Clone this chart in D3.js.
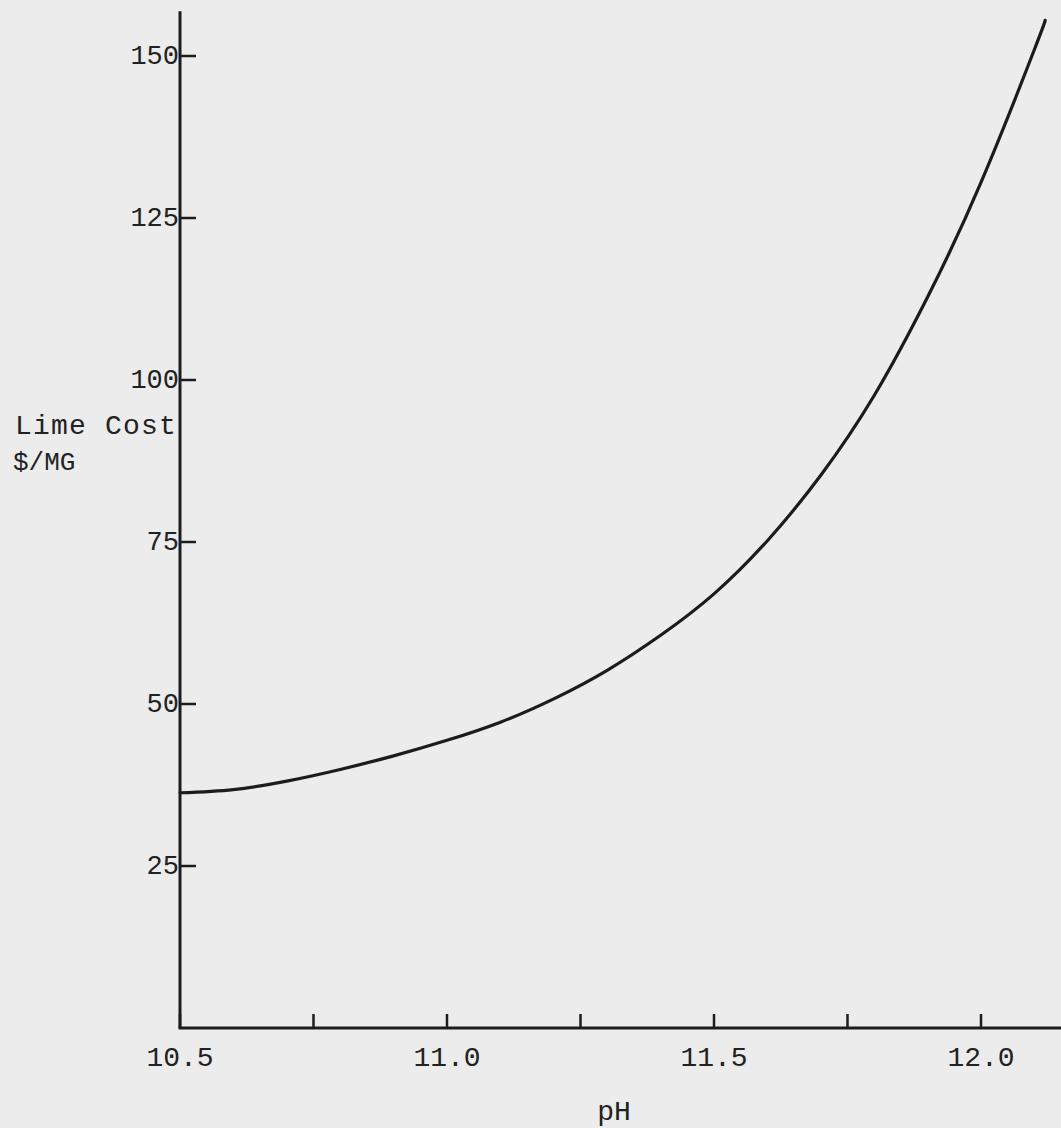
<!DOCTYPE html>
<html>
<head>
<meta charset="utf-8">
<script src="https://cdn.jsdelivr.net/npm/d3@7"></script>
<style>
  body { margin: 0; background: #ececec; }
  svg { display: block; }
  text { font-family: "Liberation Mono", monospace; fill: #222; }
</style>
</head>
<body>
<svg id="chart" width="1061" height="1128"></svg>
<script>
// values
const phValues = [10.5, 10.6, 10.7, 10.8, 10.9, 11.0, 11.1, 11.2, 11.3, 11.4, 11.5, 11.6, 11.7, 11.8, 11.9, 12.0, 12.1, 12.12];
const limeCost = [36.3, 36.8, 38.1, 39.9, 42.0, 44.4, 47.2, 50.8, 55.2, 60.6, 67.0, 75.2, 85.3, 97.6, 112.8, 130.5, 151.0, 155.5];

const xMajorTicks = [10.5, 11.0, 11.5, 12.0];
const xMinorTicks = [10.75, 11.25, 11.75];
const yTicks = [25, 50, 75, 100, 125, 150];

const svg = d3.select("#chart");
const ink = "#1c1c1c";

// scales, axis corner sits at (180, 1028)
const x = d3.scaleLinear().domain([10.5, 12.0]).range([180, 981]);
const y = d3.scaleLinear().domain([0, 150]).range([1028, 56]);

// y axis line
svg.append("line")
    .attr("x1", x(10.5)).attr("x2", x(10.5))
    .attr("y1", y(156.9)).attr("y2", y(0))
    .attr("stroke", ink).attr("stroke-width", 3);

// x axis line, runs off the right edge
svg.append("line")
    .attr("x1", x(10.5) - 1.5).attr("x2", 1061)
    .attr("y1", y(0)).attr("y2", y(0))
    .attr("stroke", ink).attr("stroke-width", 3);

// y ticks point right, labels butt against the axis
const yt = svg.append("g").selectAll("g").data(yTicks).join("g");
yt.append("line")
    .attr("x1", x(10.5)).attr("x2", x(10.5) + 16)
    .attr("y1", d => y(d)).attr("y2", d => y(d))
    .attr("stroke", ink).attr("stroke-width", 2.5);
yt.append("text")
    .attr("x", x(10.5) - 1)
    .attr("y", d => y(d) + 8)
    .attr("text-anchor", "end")
    .attr("font-size", 27)
    .text(d => d);

// x ticks point up into the plot
svg.append("g").selectAll("line").data(xMajorTicks.concat(xMinorTicks)).join("line")
    .attr("x1", d => x(d)).attr("x2", d => x(d))
    .attr("y1", y(0)).attr("y2", y(0) - 14)
    .attr("stroke", ink).attr("stroke-width", 2.5);

svg.append("g").selectAll("text").data(xMajorTicks).join("text")
    .attr("x", d => x(d))
    .attr("y", 1066)
    .attr("text-anchor", "middle")
    .attr("font-size", 28)
    .text(d => d.toFixed(1));

// axis titles
svg.append("text")
    .attr("x", 177).attr("y", 434)
    .attr("text-anchor", "end")
    .attr("font-size", 28)
    .attr("letter-spacing", 1.2)
    .text("Lime Cost");
svg.append("text")
    .attr("x", 13).attr("y", 470)
    .attr("font-size", 26)
    .text("$/MG");
svg.append("text")
    .attr("x", 614).attr("y", 1120)
    .attr("text-anchor", "middle")
    .attr("font-size", 28)
    .text("pH");

// the cost curve
const line = d3.line()
    .x((d, i) => x(phValues[i]))
    .y(d => y(d))
    .curve(d3.curveNatural);

svg.append("path")
    .datum(limeCost)
    .attr("d", line)
    .attr("fill", "none")
    .attr("stroke", ink)
    .attr("stroke-width", 3.2)
    .attr("stroke-linecap", "round");
</script>
</body>
</html>
